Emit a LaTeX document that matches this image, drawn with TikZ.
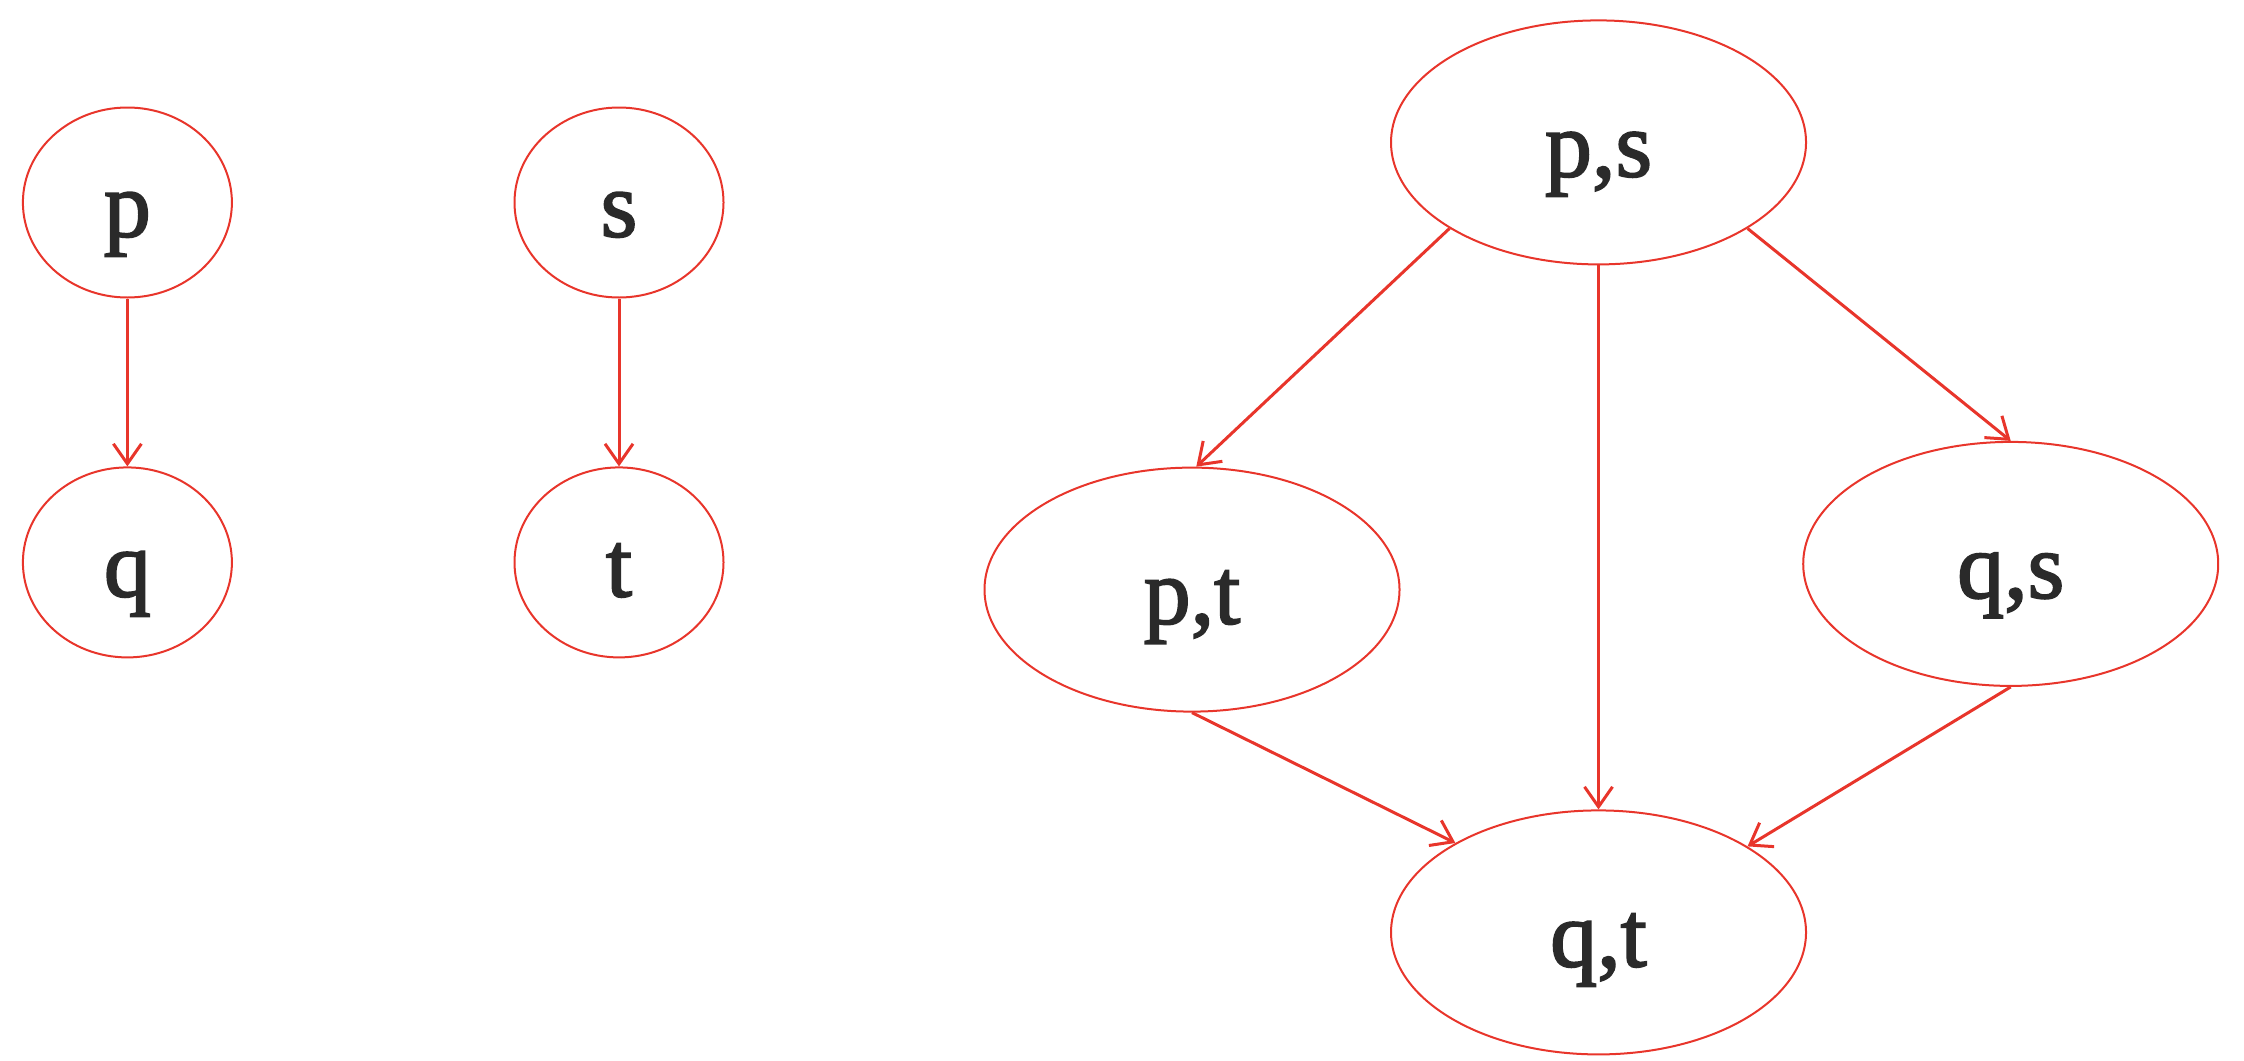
\documentclass[tikz,border=0pt]{standalone}
\usepackage{fontspec}
\setmainfont[FakeBold=2]{Liberation Serif}
\usetikzlibrary{shapes.geometric,arrows.meta}
\definecolor{edgered}{HTML}{E8352B}
\definecolor{txtgray}{HTML}{2A2A2A}
\begin{document}
\begin{tikzpicture}[x=0.25pt,y=-0.25pt,
  smallnode/.style={ellipse,draw=edgered,line width=0.5pt,inner sep=0pt,
    minimum width=52.25pt,minimum height=47.5pt,text=txtgray,
    font=\fontsize{23.5}{23.5}\selectfont,text height=17pt,text depth=0pt},
  bignode/.style={smallnode,minimum width=103.75pt,minimum height=61pt},
  link/.style={draw=edgered,line width=0.75pt,-{Straight Barb[length=5pt,width=7pt]}}]
\useasboundingbox (0,0) rectangle (2244,1060);
\node[smallnode] (p) at (127.4,202.5) {p};
\node[smallnode] (q) at (127.4,562.4) {q};
\node[smallnode] (s) at (619,202.5) {s};
\node[smallnode] (t) at (619,562.4) {t};
\node[bignode] (ps) at (1598.5,142.4) {p,s};
\node[bignode] (pt) at (1192,589.6) {p,t};
\node[bignode] (qs) at (2010.7,563.9) {q,s};
\node[bignode] (qt) at (1598.5,932.4) {q,t};
\draw[link] (p.south) -- (q.north);
\draw[link] (s.south) -- (t.north);
\draw[link] (ps.210.7) -- (pt.88.7);
\draw[link] (ps.south) -- (qt.north);
\draw[link] (ps.-30.2) -- (qs.north);
\draw[link] (pt.south) -- (qt.148.9);
\draw[link] (qs.south) -- (qt.30.6);
\end{tikzpicture}
\end{document}
